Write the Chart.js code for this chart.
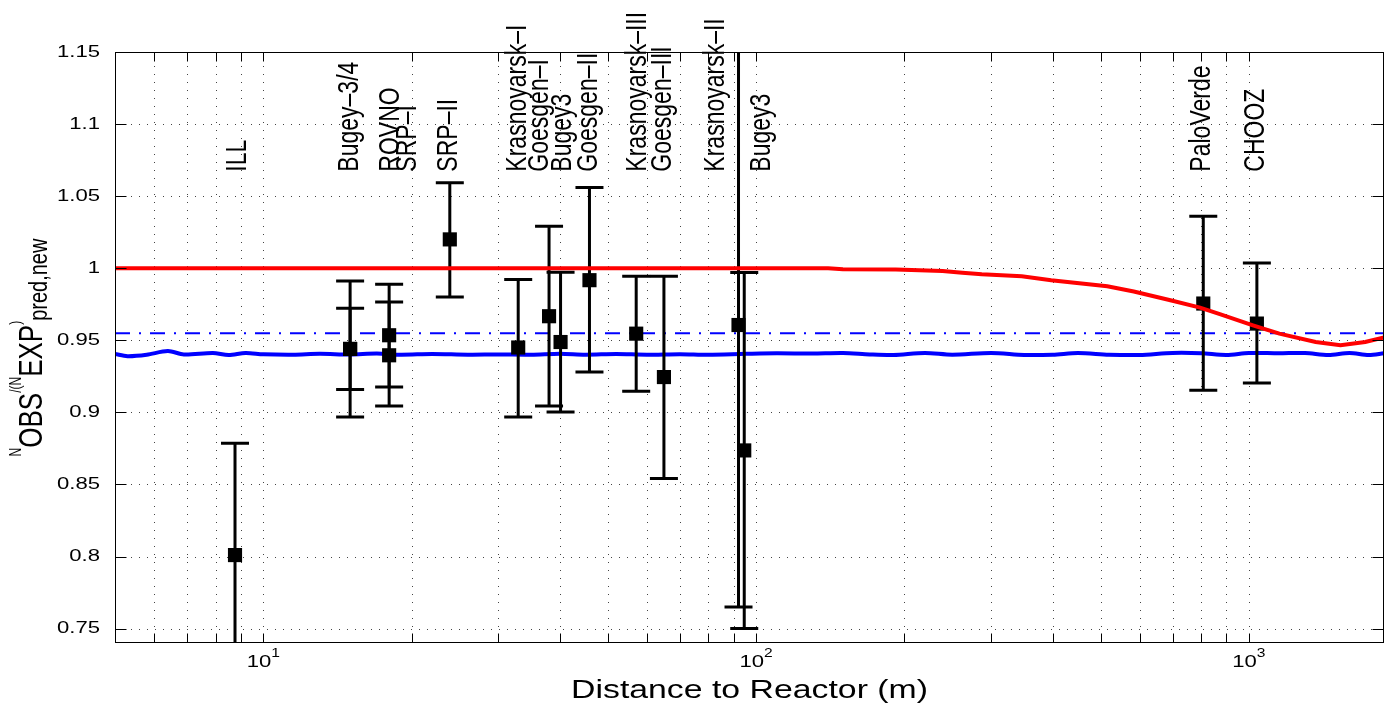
<!DOCTYPE html>
<html>
<head>
<meta charset="utf-8">
<script src="https://cdn.jsdelivr.net/npm/chart.js@4.4.1/dist/chart.umd.min.js"></script>
<style>
  html, body { margin: 0; padding: 0; background: #fff; }
  #wrap { width: 1394px; height: 710px; }
</style>
</head>
<body>
<div id="wrap"><canvas id="reactorChart"></canvas></div>
<script>
// measured ratios per experiment (distance in m)
const pointDist  = [8.76, 15, 15, 18, 18, 23.9, 32.9, 38, 40.1, 45.9, 57.1, 65, 92.1, 94.6, 808, 1038];
const pointRatio = [0.801, 0.944, 0.944, 0.9535, 0.9396, 1.020, 0.945, 0.9667, 0.9488, 0.9917, 0.9546, 0.9245, 0.9606, 0.8736, 0.9755, 0.9616];
const errLow     = [0.7215, 0.8967, 0.9158, 0.9044, 0.9176, 0.9801, 0.8967, 0.9044, 0.9002, 0.928, 0.9146, 0.8542, 0.765, 0.750, 0.9153, 0.9204];
const errHigh    = [0.8785, 0.9912, 0.9722, 0.9889, 0.9766, 1.0593, 0.9921, 1.0292, 0.9972, 1.056, 0.9944, 0.9944, 1.2, 0.997, 1.0361, 1.0037];

// experiment labels and where they sit
const labelNames = ['ILL', 'Bugey–3/4', 'ROVNO', 'SRP–I', 'SRP–II', 'Krasnoyarsk–I', 'Goesgen–I', 'Bugey3',
  'Goesgen–II', 'Krasnoyarsk–III', 'Goesgen–III', 'Krasnoyarsk–II', 'Bugey3', 'PaloVerde', 'CHOOZ'];
const labelDist = [8.87, 15, 18.1, 19.67, 23.8, 32.9, 36.4, 40.5, 45.7, 57.4, 64.7, 82.7, 102.8, 804, 1033];
const labelLevel = 1.067;

// red curve (oscillation prediction)
const redDist  = [5, 140, 150, 192, 239, 262, 287, 346, 397, 516, 584, 693, 796, 873, 1019, 1153, 1366, 1534, 1722, 1880];
const redRatio = [1.0, 1.0, 0.9993, 0.9991, 0.9981, 0.9968, 0.9958, 0.9944, 0.9917, 0.9875, 0.9838, 0.9778, 0.9727,
  0.9681, 0.9604, 0.9546, 0.9488, 0.9465, 0.9488, 0.9520];

// blue curve
const blueDist  = [5, 5.3, 5.8, 6.4, 6.9, 7.9, 8.5, 9.2, 10, 11.5, 13, 15, 17, 19, 22, 26, 30, 35, 40, 45, 52, 60, 70,
  80, 95, 110, 130, 150, 170, 190, 220, 250, 300, 350, 400, 450, 520, 600, 700, 800, 900, 1000, 1150, 1300, 1450,
  1600, 1750, 1880];
const blueRatio = [0.9405, 0.9390, 0.9400, 0.9425, 0.9402, 0.9412, 0.9398, 0.9412, 0.9403, 0.9400, 0.9406, 0.9402,
  0.9408, 0.9400, 0.9405, 0.9400, 0.9402, 0.9400, 0.9407, 0.9400, 0.9405, 0.9400, 0.9404, 0.9400, 0.9406, 0.9410,
  0.9408, 0.9412, 0.9402, 0.9398, 0.9412, 0.9400, 0.9412, 0.9398, 0.9400, 0.9412, 0.9400, 0.9398, 0.9412, 0.9410,
  0.9398, 0.9412, 0.9410, 0.9412, 0.9398, 0.9412, 0.9398, 0.9410];

// mean ratio (dash-dot)
const meanDist  = [5, 1880];
const meanRatio = [0.9549, 0.9549];

const yTicks = [0.75, 0.8, 0.85, 0.9, 0.95, 1, 1.05, 1.1, 1.15];
const yTickLabels = ['0.75', '0.8', '0.85', '0.9', '0.95', '1', '1.05', '1.1', '1.15'];
const xTicks = [6, 7, 8, 9, 10, 20, 30, 40, 50, 60, 70, 80, 90, 100, 200, 300, 400, 500, 600, 700, 800, 900, 1000];
const xMajor = [10, 100, 1000];
const xMajorExp = ['1', '2', '3'];

const xTitle = 'Distance to Reactor (m)';
const yTitleParts = [
  { text: 'N', size: 12, dy: -16 },
  { text: 'OBS', size: 26, dy: 0 },
  { text: '/(', size: 12, dy: -16 },
  { text: 'N', size: 12, dy: -16 },
  { text: 'EXP', size: 26, dy: 0 },
  { text: ')', size: 12, dy: -16 },
  { text: 'pred,new', size: 20, dy: 4 }
];

const FONT = '"Liberation Sans", Arial, sans-serif';
const SX = 1.3; // the figure is stretched sideways

function pairs(xs, ys) {
  return xs.map((v, i) => ({ x: v, y: ys[i] }));
}

function stretchText(ctx, str, x, y, size, align, baseline, rot) {
  ctx.save();
  ctx.translate(x, y);
  ctx.scale(SX, 1);
  if (rot) ctx.rotate(rot);
  ctx.font = `${size}px ${FONT}`;
  ctx.textAlign = align;
  ctx.textBaseline = baseline;
  ctx.fillStyle = '#000';
  ctx.fillText(str, 0, 0);
  ctx.restore();
}

const errorBarPlugin = {
  id: 'errorBars',
  beforeDatasetDraw(chart, args) {
    if (args.index !== 1) return;
    const { ctx, chartArea: a, scales: { x, y } } = chart;
    ctx.save();
    ctx.beginPath();
    ctx.rect(a.left, a.top, a.right - a.left, a.bottom - a.top);
    ctx.clip();
    ctx.strokeStyle = '#000';
    ctx.lineWidth = 3;
    pointDist.forEach((d, i) => {
      const px = x.getPixelForValue(d);
      const lo = y.getPixelForValue(errLow[i]);
      const hi = y.getPixelForValue(errHigh[i]);
      ctx.beginPath();
      ctx.moveTo(px, lo); ctx.lineTo(px, hi);
      ctx.moveTo(px - 14, lo); ctx.lineTo(px + 14, lo);
      ctx.moveTo(px - 14, hi); ctx.lineTo(px + 14, hi);
      ctx.stroke();
    });
    ctx.restore();
  }
};

const axesPlugin = {
  id: 'matlabAxes',
  beforeDatasetsDraw(chart) {
    const { ctx, chartArea: a, scales: { x, y } } = chart;
    ctx.save();
    ctx.strokeStyle = '#444';
    ctx.lineWidth = 1;
    ctx.setLineDash([1, 7]);
    xTicks.forEach(v => {
      const px = Math.round(x.getPixelForValue(v)) + 0.5;
      ctx.beginPath(); ctx.moveTo(px, a.bottom); ctx.lineTo(px, a.top); ctx.stroke();
    });
    yTicks.forEach(v => {
      const py = Math.round(y.getPixelForValue(v)) + 0.5;
      ctx.beginPath(); ctx.moveTo(a.left, py); ctx.lineTo(a.right, py); ctx.stroke();
    });
    ctx.restore();
  },
  afterDatasetsDraw(chart) {
    const { ctx, chartArea: a, scales: { x, y } } = chart;
    ctx.save();
    ctx.strokeStyle = '#000';
    ctx.lineWidth = 1;
    const l = Math.round(a.left) + 0.5, r = Math.round(a.right) - 0.5;
    const t = Math.round(a.top) + 0.5, b = Math.round(a.bottom) - 0.5;
    ctx.strokeRect(l, t, r - l, b - t);
    ctx.beginPath();
    xTicks.forEach(v => {
      const px = Math.round(x.getPixelForValue(v)) + 0.5;
      ctx.moveTo(px, b); ctx.lineTo(px, b - 9);
      ctx.moveTo(px, t); ctx.lineTo(px, t + 9);
    });
    yTicks.forEach(v => {
      const py = Math.round(y.getPixelForValue(v)) + 0.5;
      ctx.moveTo(l, py); ctx.lineTo(l + 11, py);
      ctx.moveTo(r, py); ctx.lineTo(r - 11, py);
    });
    ctx.stroke();
    ctx.restore();
  },
  afterDraw(chart) {
    const { ctx, chartArea: a, scales: { x, y } } = chart;

    yTicks.forEach((v, i) => {
      stretchText(ctx, yTickLabels[i], a.left - 15, y.getPixelForValue(v), 17, 'right', 'middle', 0);
    });

    xMajor.forEach((v, i) => {
      const px = x.getPixelForValue(v);
      ctx.font = `17px ${FONT}`;
      const w1 = ctx.measureText('10').width * SX;
      ctx.font = `12px ${FONT}`;
      const w2 = ctx.measureText(xMajorExp[i]).width * SX;
      const start = px - (w1 + w2) / 2;
      stretchText(ctx, '10', start, a.bottom + 24, 17, 'left', 'alphabetic', 0);
      stretchText(ctx, xMajorExp[i], start + w1, a.bottom + 14, 12, 'left', 'alphabetic', 0);
    });

    stretchText(ctx, xTitle, (a.left + a.right) / 2, a.bottom + 48, 26, 'center', 'middle', 0);

    labelNames.forEach((name, i) => {
      stretchText(ctx, name, x.getPixelForValue(labelDist[i]), y.getPixelForValue(labelLevel), 23,
        'left', 'middle', -Math.PI / 2);
    });

    // y title with sub/superscript pieces
    ctx.save();
    ctx.translate(42, (a.top + a.bottom) / 2);
    ctx.scale(SX, 1);
    ctx.rotate(-Math.PI / 2);
    ctx.fillStyle = '#000';
    ctx.textAlign = 'left';
    ctx.textBaseline = 'alphabetic';
    let total = 0;
    const widths = yTitleParts.map(p => {
      ctx.font = `${p.size}px ${FONT}`;
      const w = ctx.measureText(p.text).width;
      total += w;
      return w;
    });
    let pos = -total / 2;
    yTitleParts.forEach((p, i) => {
      ctx.font = `${p.size}px ${FONT}`;
      ctx.fillText(p.text, pos, p.dy);
      pos += widths[i];
    });
    ctx.restore();
  }
};

const ctx = document.getElementById('reactorChart').getContext('2d');

new Chart(ctx, {
  type: 'scatter',
  data: {
    datasets: [
      {
        type: 'line',
        label: 'prediction',
        data: pairs(redDist, redRatio),
        borderColor: '#ff0000',
        borderWidth: 4,
        pointRadius: 0,
        tension: 0,
        fill: false
      },
      {
        label: 'data',
        data: pairs(pointDist, pointRatio),
        pointStyle: 'rect',
        pointRadius: 10,
        pointBorderWidth: 0,
        backgroundColor: '#000',
        borderColor: '#000'
      },
      {
        type: 'line',
        label: 'fit',
        data: pairs(blueDist, blueRatio),
        borderColor: '#0000ff',
        borderWidth: 4,
        pointRadius: 0,
        tension: 0.3,
        fill: false
      },
      {
        type: 'line',
        label: 'mean',
        data: pairs(meanDist, meanRatio),
        borderColor: '#0000ff',
        borderWidth: 2,
        borderDash: [15, 9, 2, 9],
        pointRadius: 0,
        fill: false
      }
    ]
  },
  options: {
    responsive: true,
    maintainAspectRatio: false,
    animation: false,
    devicePixelRatio: 1,
    events: [],
    layout: { padding: { left: 115, top: 52, right: 2, bottom: 67 } },
    plugins: {
      legend: { display: false },
      tooltip: { enabled: false }
    },
    scales: {
      x: {
        type: 'logarithmic',
        min: 5,
        max: 1880,
        display: false
      },
      y: {
        type: 'linear',
        min: 0.74,
        max: 1.15,
        display: false
      }
    }
  },
  plugins: [errorBarPlugin, axesPlugin]
});
</script>
</body>
</html>
